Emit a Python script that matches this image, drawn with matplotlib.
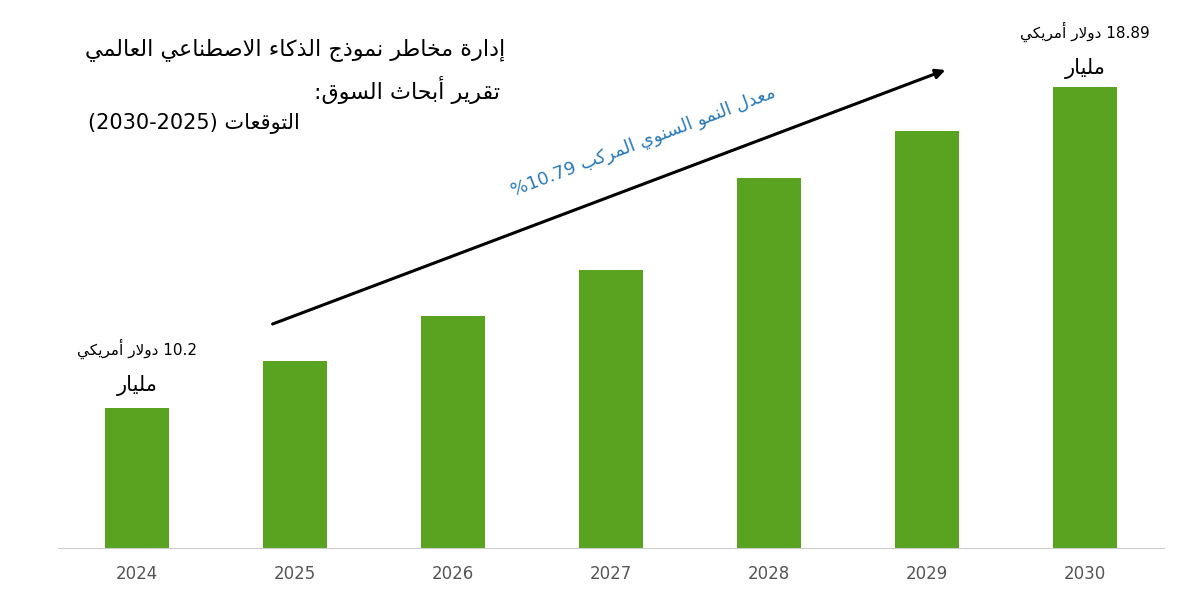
import unicodedata
import matplotlib
matplotlib.use("Agg")
import matplotlib.pyplot as plt

years = ["2024", "2025", "2026", "2027", "2028", "2029", "2030"]
values = [10.2, 11.47, 12.69, 13.94, 16.43, 17.70, 18.89]
title_lines = ["إدارة مخاطر نموذج الذكاء الاصطناعي العالمي", "تقرير أبحاث السوق:", "التوقعات (2030-2025)"]
cagr_text = "معدل النمو السنوي المركب %10.79"
first_label = ("10.2 دولار أمريكي", "مليار")
last_label = ("18.89 دولار أمريكي", "مليار")

# --- minimal Arabic shaping (no external libs) ---
NAMES = {'ء':'HAMZA','آ':'ALEF WITH MADDA ABOVE','أ':'ALEF WITH HAMZA ABOVE','إ':'ALEF WITH HAMZA BELOW',
 'ا':'ALEF','ب':'BEH','ة':'TEH MARBUTA','ت':'TEH','ث':'THEH','ج':'JEEM','ح':'HAH','خ':'KHAH','د':'DAL',
 'ذ':'THAL','ر':'REH','ز':'ZAIN','س':'SEEN','ش':'SHEEN','ص':'SAD','ض':'DAD','ط':'TAH','ظ':'ZAH','ع':'AIN',
 'غ':'GHAIN','ف':'FEH','ق':'QAF','ك':'KAF','ل':'LAM','م':'MEEM','ن':'NOON','ه':'HEH','و':'WAW','ى':'ALEF MAKSURA','ي':'YEH'}
NONJOIN = set('ءآأإادذرزوة')
LAMALEF = {'ا':'ALEF','أ':'ALEF WITH HAMZA ABOVE','إ':'ALEF WITH HAMZA BELOW','آ':'ALEF WITH MADDA ABOVE'}

def form(ch, f):
    try:
        return unicodedata.lookup('ARABIC LETTER %s %s FORM' % (NAMES[ch], f))
    except KeyError:
        return ch

def shape_word(w):
    toks = []
    i = 0
    while i < len(w):
        if w[i] == 'ل' and i + 1 < len(w) and w[i+1] in LAMALEF:
            toks.append(('LA', w[i+1])); i += 2
        else:
            toks.append(w[i]); i += 1
    def joins_next(t):
        return isinstance(t, str) and t in NAMES and t not in NONJOIN
    def is_ar(t):
        return isinstance(t, tuple) or t in NAMES
    out = []
    for k, t in enumerate(toks):
        prev = toks[k-1] if k > 0 else None
        nxt = toks[k+1] if k + 1 < len(toks) else None
        jp = prev is not None and joins_next(prev)
        if isinstance(t, tuple):
            name = 'ARABIC LIGATURE LAM WITH %s %s FORM' % (LAMALEF[t[1]], 'FINAL' if jp else 'ISOLATED')
            out.append(unicodedata.lookup(name)); continue
        if t not in NAMES:
            out.append(t); continue
        jn = nxt is not None and is_ar(nxt) and t not in NONJOIN
        if jp and jn: out.append(form(t, 'MEDIAL'))
        elif jp: out.append(form(t, 'FINAL'))
        elif jn: out.append(form(t, 'INITIAL'))
        else: out.append(form(t, 'ISOLATED'))
    return ''.join(out)

def ar(s):
    words = []
    for w in s.split(' '):
        if any(c in NAMES for c in w):
            words.append(shape_word(w)[::-1])
        else:
            words.append(w)
    return ' '.join(reversed(words))

plt.rcParams['font.family'] = 'DejaVu Sans'
fig = plt.figure(figsize=(12, 6), dpi=100)
ax = fig.add_axes([58/1200, 52/600, 1106/1200, 502/600])
x = range(len(years))
ax.bar(x, values, width=0.4, color='#5aa321')
ax.set_xlim(-0.5, 6.5)
ax.set_ylim(6.41, 20)
ax.set_xticks(list(x))
ax.set_xticklabels(years, fontsize=12, color='#555555')
ax.tick_params(axis='x', length=0, pad=12)
ax.set_yticks([])
for s in ['top', 'left', 'right']:
    ax.spines[s].set_visible(False)
ax.spines['bottom'].set_color('#cccccc')

ax.text(0, values[0] + 1.6, ar(first_label[0]), ha='center', va='center', fontsize=11)
ax.text(0, values[0] + 0.62, ar(first_label[1]), ha='center', va='center', fontsize=15)
ax.text(6, values[6] + 1.5, ar(last_label[0]), ha='center', va='center', fontsize=11)
ax.text(6, values[6] + 0.5, ar(last_label[1]), ha='center', va='center', fontsize=15)

fig.text(505/1200, 1 - 50/600, ar(title_lines[0]), ha='right', va='center', fontsize=16)
fig.text(500/1200, 1 - 90/600, ar(title_lines[1]), ha='right', va='center', fontsize=16)
fig.text(300/1200, 1 - 124/600, ar(title_lines[2]), ha='right', va='center', fontsize=15)

fig.add_artist(matplotlib.patches.FancyArrowPatch((270/1200, 1 - 325/600), (948/1200, 1 - 69/600),
    transform=fig.transFigure, arrowstyle='-|>', mutation_scale=14, lw=2.2, color='black'))
fig.text(643/1200, 1 - 142/600, ar(cagr_text), ha='center', va='center', fontsize=13,
         color='#2a7ab8', rotation=20.7, rotation_mode='anchor')
fig.savefig('out.png', dpi=100)
